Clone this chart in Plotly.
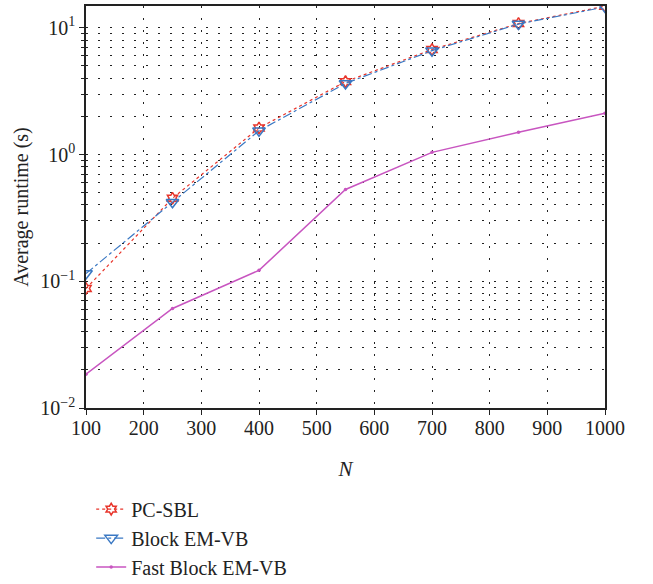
import plotly.graph_objects as go

N = [100, 250, 400, 550, 700, 850, 1000]
pc_sbl = [0.0877, 0.452, 1.62, 3.76, 6.74, 10.8, 14.8]
block_emvb = [0.115, 0.42, 1.54, 3.64, 6.6, 10.7, 14.6]
fast_block_emvb = [0.0185, 0.061, 0.122, 0.53, 1.04, 1.50, 2.12]
y_tick_vals = [0.01, 0.1, 1, 10]
y_tick_text = ["10<sup>\u22122</sup>", "10<sup>\u22121</sup>", "10<sup>0</sup>", "10<sup>1</sup>"]

FONT = "Liberation Serif"
grid_dash = "2px,10px"

fig = go.Figure()
fig.add_trace(go.Scatter(
    x=N, y=pc_sbl, name="PC-SBL", mode="lines+markers",
    line=dict(color="#e8352b", width=1.2, dash="dot"),
    marker=dict(symbol="hexagram-open", size=9, color="#e8352b", line=dict(width=1.5, color="#e8352b"))))
fig.add_trace(go.Scatter(
    x=N, y=block_emvb, name="Block EM-VB", mode="lines+markers",
    line=dict(color="#3a78c3", width=1.2, dash="dashdot"),
    marker=dict(symbol="triangle-down-open", size=11, color="#3a78c3", line=dict(width=1.5, color="#3a78c3"))))
fig.add_trace(go.Scatter(
    x=N, y=fast_block_emvb, name="Fast Block EM-VB", mode="lines+markers",
    line=dict(color="#c855c0", width=1.5),
    marker=dict(symbol="circle", size=3.5, color="#c855c0")))

fig.update_layout(
    width=653, height=584,
    margin=dict(l=86, r=48, t=6, b=176, autoexpand=False),
    paper_bgcolor="white", plot_bgcolor="white",
    font=dict(family=FONT, size=20, color="#222"),
    showlegend=True,
    legend=dict(x=0.01, y=-0.203, xanchor="left", yanchor="top",
                bgcolor="rgba(0,0,0,0)", font=dict(family=FONT, size=20),
                tracegroupgap=0, itemwidth=30),
)
fig.update_xaxes(
    range=[100, 1000], tickvals=list(range(100, 1001, 100)),
    showline=True, linecolor="#222", linewidth=1.5, mirror=True,
    ticks="outside", ticklen=5, tickcolor="#222", ticklabelstandoff=-4,
    showgrid=True, gridcolor="#222", gridwidth=1, griddash=grid_dash,
    zeroline=False,
    title=dict(text="<i>N</i>", font=dict(family=FONT, size=21), standoff=24),
)
fig.update_yaxes(
    type="log", range=[-2, 1.172], tickvals=y_tick_vals, ticktext=y_tick_text,
    showline=True, linecolor="#222", linewidth=1.5, mirror=True,
    ticks="outside", ticklen=5, tickcolor="#222",
    showgrid=True, gridcolor="#222", gridwidth=1, griddash=grid_dash,
    minor=dict(dtick="D1", showgrid=True, gridcolor="#222", griddash=grid_dash,
               ticks="outside", ticklen=3, tickcolor="#222"),
    zeroline=False,
    title=dict(text="Average runtime (s)", font=dict(family=FONT, size=20), standoff=6),
)

fig.write_html("out.html")
